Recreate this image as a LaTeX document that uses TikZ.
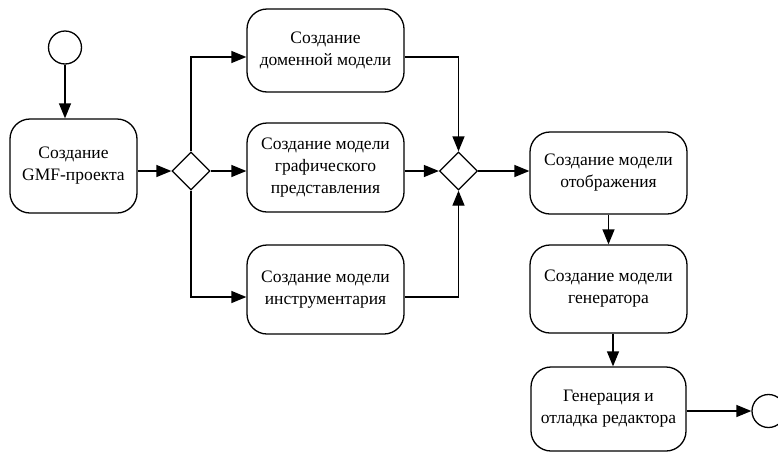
\documentclass[tikz,border=0pt]{standalone}
\usepackage{fontspec}
\setmainfont{Liberation Serif}
\newfontfamily\diagfont{Liberation Serif}
\usetikzlibrary{arrows.meta,calc,shapes.geometric}
\begin{document}
\begin{tikzpicture}[x=1pt,y=-1pt,
  every node/.style={font=\diagfont\fontsize{17.5}{22}\selectfont},
  act/.style={draw,line width=1.3pt,rounded corners=20pt,align=center,inner sep=0pt},
  gate/.style={draw,line width=1.3pt,diamond,minimum width=38pt,minimum height=38pt,inner sep=0pt,fill=white},
  terminal/.style={draw,line width=1.3pt,circle,minimum size=33pt,inner sep=0pt},
  flow/.style={line width=1.3pt,-{Triangle[length=15pt,width=12pt]}}
]
\useasboundingbox (0,0) rectangle (778,453);
\node[terminal] (start) at (65,47.5) {};
\node[act,minimum width=127pt,minimum height=94pt] (gmf) at (73.5,166) {Создание\\GMF-проекта};
\node[gate] (d1) at (191,171) {};
\node[act,minimum width=157pt,minimum height=83pt] (domain) at (325.5,50.5) {Создание\\доменной модели};
\node[act,minimum width=157pt,minimum height=89pt] (graphic) at (325.5,167.5) {Создание модели\\графического\\представления};
\node[act,minimum width=157pt,minimum height=89pt] (tool) at (325.5,289.5) {Создание модели\\инструментария};
\node[gate] (d2) at (458.5,171) {};
\node[act,minimum width=157pt,minimum height=82pt] (mapping) at (608.5,173) {Создание модели\\отображения};
\node[act,minimum width=157pt,minimum height=88pt] (gen) at (608.5,289) {Создание модели\\генератора};
\node[act,minimum width=155pt,minimum height=84pt] (edit) at (608.5,409) {Генерация и\\отладка редактора};
\node[terminal] (end) at (768.5,411) {};

\draw[flow] (start) -- (start |- gmf.north);
\draw[flow] (gmf.east |- d1.west) -- (d1.west);
\draw[flow] (d1.north) |- ($(domain.west)+(0,6.5)$);
\draw[flow] (d1.east) -- (d1.east -| graphic.west);
\draw[flow] (d1.south) |- ($(tool.west)+(0,7.5)$);
\draw[flow] ($(domain.east)+(0,6.5)$) -| (d2.north);
\draw[flow] (graphic.east |- d2.west) -- (d2.west);
\draw[flow] ($(tool.east)+(0,7.5)$) -| (d2.south);
\draw[flow] (d2.east) -- (d2.east -| mapping.west);
\draw[flow] (mapping.south) -- (gen.north);
\draw[flow] ($(gen.south)+(4.5,0)$) -- ($(edit.north)+(4.5,0)$);
\draw[flow] (edit.east |- end.west) -- (end.west);
\end{tikzpicture}
\end{document}
